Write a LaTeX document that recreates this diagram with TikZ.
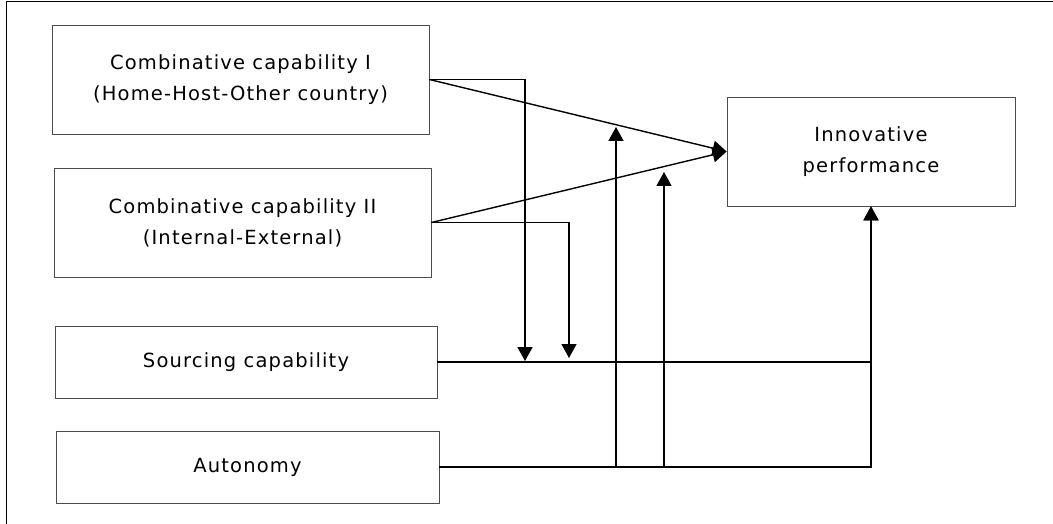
\documentclass[tikz,border=0pt]{standalone}
\usepackage{fontspec}
\setmainfont{DejaVu Sans}[LetterSpace=6]
\usetikzlibrary{arrows.meta}
\begin{document}
\begin{tikzpicture}[x=1pt,y=-1pt]
		\tikzset{block/.style = {shape=rectangle, draw=black!70, line width=0.8pt, align=center, font=\fontsize{19.5}{31}\selectfont},
			link/.style = {line width=1.4pt},
			arr/.style = {link, -{Triangle[length=14pt,width=15pt]}}}

		\useasboundingbox (0,0) rectangle (1053,524);
		\draw[line width=1pt] (6,524) -- (6,2) -- (1053,2);

		\node[block, minimum width=377pt, minimum height=109pt] (C_1) at (240.5,79.5) {Combinative capability I\\(Home-Host-Other country)};
		\node[block, minimum width=377pt, minimum height=109pt] (C_2) at (242.5,222.5) {Combinative capability II\\(Internal-External)};
		\node[block, minimum width=382pt, minimum height=72pt] (S) at (246,362) {Sourcing capability};
		\node[block, minimum width=383pt, minimum height=72pt] (A) at (247.5,467) {Autonomy};
		\node[block, minimum width=288pt, minimum height=109pt] (P) at (871,151.5) {Innovative\\performance};

		\coordinate (m_1) at (525,361);
		\coordinate (m_2) at (569,358);
		\coordinate (j_1) at (616,467);
		\coordinate (j_2) at (664,467);
		\coordinate (t_1) at (616,127);
		\coordinate (t_2) at (664,172);

		\draw[arr] (C_1.east)--(P.west);
		\draw[arr] (C_2.east)--(P.west);
		\draw[arr] (S.east) -| (P.south);
		\draw[arr] (A.east) -| (P.south);

		\draw[arr] (C_1.east) -| (m_1);
		\draw[arr] (C_2.east) -| (m_2);
		\draw[arr] (j_1)--(t_1);
		\draw[arr] (j_2)--(t_2);

	\end{tikzpicture}
\end{document}
